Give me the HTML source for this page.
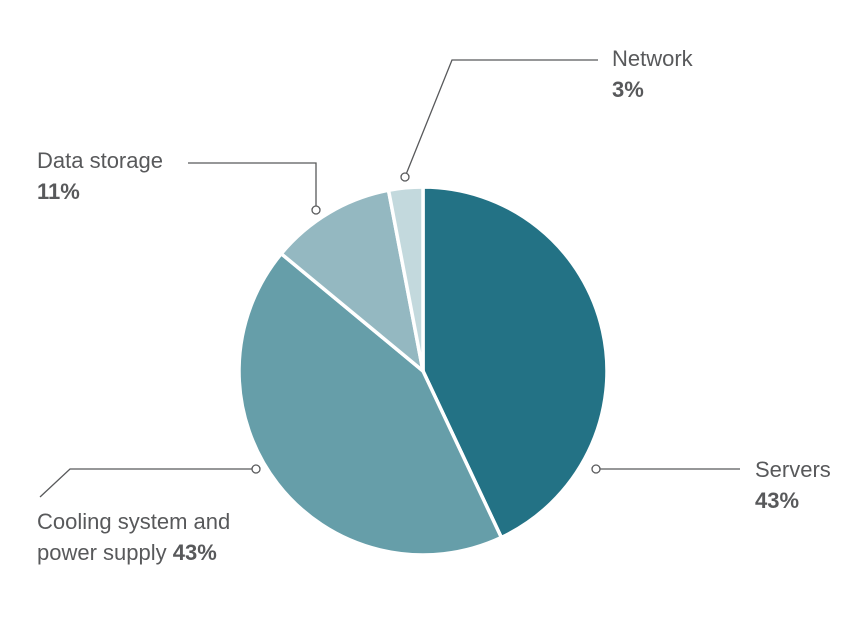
<!DOCTYPE html>
<html><head><meta charset="utf-8"><style>
body{margin:0;background:#fff;}
svg{display:block;font-family:"Liberation Sans",Arial,sans-serif;}
.lbl{font-size:22px;fill:#58595b;}
.b{font-weight:bold;}
</style></head><body>
<svg width="865" height="621" viewBox="0 0 865 621">
<g id="slices"></g>
<g stroke="#58595b" stroke-width="1.3" fill="#fff">
<polyline points="405,177 452,60 598,60" fill="none"/>
<circle cx="405" cy="177" r="4"/>
<polyline points="316,210 316,163 188,163" fill="none"/>
<circle cx="316" cy="210" r="4"/>
<polyline points="596,469 740,469" fill="none"/>
<circle cx="596" cy="469" r="4"/>
<polyline points="256,469 70,469 40,497" fill="none"/>
<circle cx="256" cy="469" r="4"/>
</g>
<text class="lbl" x="612" y="66">Network</text>
<text class="lbl b" x="612" y="97">3%</text>
<text class="lbl" x="37" y="168">Data storage</text>
<text class="lbl b" x="37" y="199">11%</text>
<text class="lbl" x="755" y="477">Servers</text>
<text class="lbl b" x="755" y="508">43%</text>
<text class="lbl" x="37" y="529">Cooling system and</text>
<text class="lbl" x="37" y="560">power supply <tspan class="b">43%</tspan></text>
</svg>
<script>
const categories=["Servers","Cooling system and power supply","Data storage","Network"];
const values=[43,43,11,3];
const colors=["#237285","#669ea9","#94b8c1","#c3d9dd"];
const cx=423,cy=371,r=184;
const g=document.getElementById('slices');
const total=values.reduce((a,b)=>a+b,0);
let a0=0;
function pt(a){return [cx+r*Math.sin(a),cy-r*Math.cos(a)];}
values.forEach((v,i)=>{
  const a1=a0+v/total*2*Math.PI;
  const p0=pt(a0),p1=pt(a1);
  const large=(a1-a0)>Math.PI?1:0;
  const p=document.createElementNS('http://www.w3.org/2000/svg','path');
  p.setAttribute('d',`M${cx},${cy} L${p0[0]},${p0[1]} A${r},${r} 0 ${large} 1 ${p1[0]},${p1[1]} Z`);
  p.setAttribute('fill',colors[i]);
  p.setAttribute('stroke','#fff');
  p.setAttribute('stroke-width','3.5');
  p.setAttribute('stroke-linejoin','round');
  
  
  g.appendChild(p);
  a0=a1;
});
</script>
</body></html>
